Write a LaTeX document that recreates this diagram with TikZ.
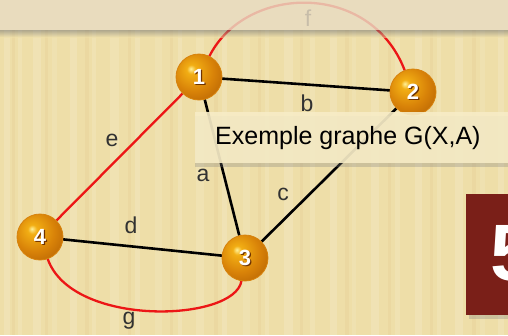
\documentclass[tikz,border=0pt]{standalone}
\usepackage{fontspec}
\setmainfont{Liberation Sans}
\usetikzlibrary{shadows}
\definecolor{bgmain}{RGB}{238,222,168}
\definecolor{bgtop}{RGB}{233,220,196}
\definecolor{ballhi}{RGB}{255,240,150}
\definecolor{ballA}{RGB}{242,174,20}
\definecolor{ballB}{RGB}{216,130,8}
\definecolor{ballC}{RGB}{168,86,2}
\definecolor{ballD}{RGB}{130,64,0}
\definecolor{ballrim}{RGB}{215,130,12}
\definecolor{boxfill}{RGB}{247,236,198}
\definecolor{redbox}{RGB}{122,31,24}
\definecolor{lbl}{RGB}{50,50,50}
\definecolor{edgered}{RGB}{236,22,22}
\definecolor{numshadow}{RGB}{110,50,0}
\pgfdeclareradialshading{goldball}{\pgfpoint{-9bp}{9bp}}{%
  color(0bp)=(ballhi); color(5bp)=(ballA); color(22bp)=(ballB);
  color(44bp)=(ballC); color(58bp)=(ballD); color(70bp)=(ballD)}
\begin{document}
\begin{tikzpicture}[x=1pt,y=-1pt,
  ballnode/.style={circle, minimum size=46pt, inner sep=0pt, shading=goldball,
     draw=ballrim, line width=0.8pt},
  numtext/.style={text=white, font=\bfseries\fontsize{22}{22}\selectfont, inner sep=0pt},
  numshade/.style={text=numshadow, font=\bfseries\fontsize{22}{22}\selectfont, inner sep=0pt},
  placenode/.style={circle, minimum size=46pt, inner sep=0pt},
  blackedge/.style={draw=black, line width=2.6pt},
  rededge/.style={draw=edgered, line width=2.3pt},
  elabel/.style={text=lbl, font=\fontsize{23}{23}\selectfont, inner sep=0pt}
]
\useasboundingbox (0,0) rectangle (508,335);
% background
\fill[bgmain] (0,0) rectangle (508,335);
\foreach \x/\w/\o in {4/6/0.15, 18/4/0.12, 33/8/0.14, 52/5/0.1, 70/7/0.15, 92/4/0.12, 110/9/0.12, 135/5/0.14,
  155/7/0.1, 178/4/0.14, 196/8/0.12, 222/5/0.15, 243/7/0.1, 265/4/0.12, 284/9/0.14, 310/5/0.12,
  330/7/0.15, 352/4/0.1, 371/8/0.14, 395/5/0.12, 415/7/0.15, 437/4/0.12, 455/8/0.14, 480/5/0.1, 498/6/0.14}
  \fill[white, opacity=\o] (\x,30) rectangle ++(\w,305);
\foreach \x/\w in {12/3, 45/3, 85/4, 128/3, 170/3, 214/4, 258/3, 300/3, 345/4, 388/3, 430/3, 472/4}
  \fill[brown!60!bgmain, opacity=0.1] (\x,30) rectangle ++(\w,305);

% node places
\node[placenode] (n1) at (199,77) {};
\node[placenode] (n2) at (413,92) {};
\node[placenode] (n3) at (245,258) {};
\node[placenode] (n4) at (40,237) {};

% edges
\coordinate (f1) at (245,-15);
\coordinate (f2) at (370,-20);
\coordinate (g1) at (72,328);
\coordinate (g2) at (235,322);
\path[blackedge] (n1) -- (n2);
\path[blackedge] (n1) -- (n3);
\path[blackedge] (n2) -- (n3);
\path[blackedge] (n4) -- (n3);
\path[rededge] (n1) -- (n4);
\path[rededge] (n1) .. controls (f1) and (f2) .. (n2);
\path[rededge] (n4) .. controls (g1) and (g2) .. (n3);

% balls
\foreach \n/\t in {1/1, 2/2, 3/3, 4/4}{
  \node[ballnode] (b\n) at (n\n) {};
  \node[numshade] (s\n) at ([xshift=1.2pt,yshift=-1.2pt]b\n.center) {\t};
  \node[numtext] (t\n) at (b\n.center) {\t};
}

% edge labels
\node[elabel] (lb) at (307,103) {b};
\node[elabel] (la) at (203,175) {a};
\node[elabel] (lc) at (283,194) {c};
\node[elabel] (ld) at (131,225) {d};
\node[elabel] (le) at (112,140) {e};
\node[elabel] (lf) at (308,18) {f};
\node[elabel] (lg) at (129,321) {g};

% top band (semi-transparent, fades the f arc)
\fill[bgtop, opacity=0.82] (0,0) rectangle (508,30);
\shade[top color=black!55, bottom color=bgmain, opacity=0.5] (0,30) rectangle (508,37);

% caption box
\node[fill=boxfill, fill opacity=0.9, text opacity=1, anchor=north west, inner xsep=20pt,
  minimum height=51pt, font=\fontsize{25}{25}\selectfont,
  drop shadow={opacity=0.3, shadow xshift=0pt, shadow yshift=-4pt}] (cap) at (195,112)
  {Exemple graphe G(X,A)\hspace*{20pt}};

% red number box
\node[fill=redbox, anchor=north west, minimum width=60pt, minimum height=121pt, inner sep=0pt,
  drop shadow={opacity=0.3, shadow xshift=3pt, shadow yshift=-4pt}] (rb) at (466,194) {};
\node[text=white, anchor=base west, inner sep=0pt, font=\bfseries\fontsize{80}{80}\selectfont] (five) at (490,280) {5};
\end{tikzpicture}
\end{document}
